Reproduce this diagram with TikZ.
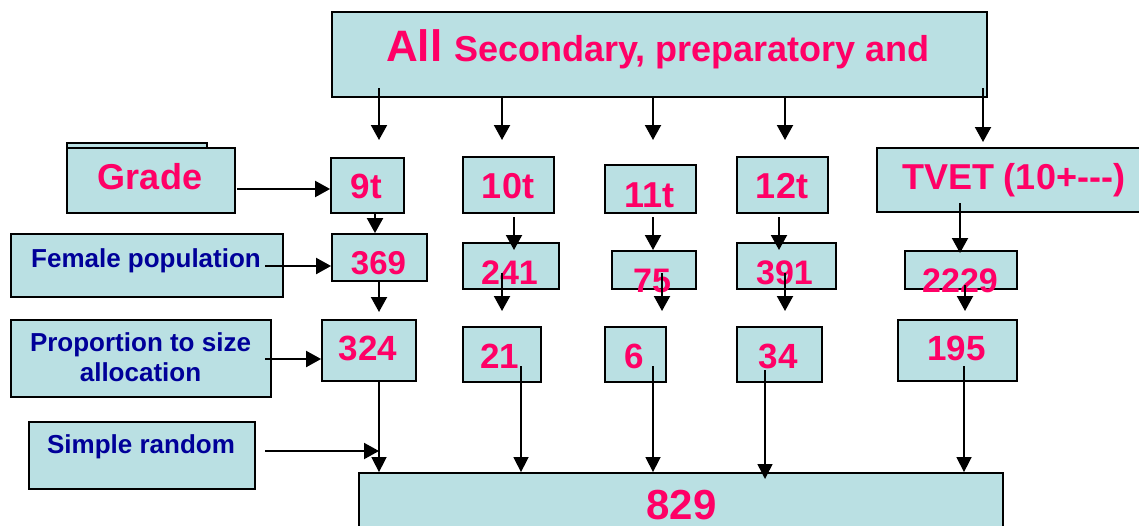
\documentclass[tikz,border=0pt]{standalone}
\usepackage{fontspec}
\setmainfont{Liberation Sans}
\usetikzlibrary{arrows.meta,fit}
\definecolor{boxfill}{RGB}{186,224,227}
\definecolor{pinkt}{RGB}{255,0,102}
\definecolor{bluet}{RGB}{0,0,153}
\tikzset{
 box/.style={draw=black, line width=1.8pt, fill=boxfill, inner sep=0pt},
 pk/.style={text=pinkt, anchor=base, inner sep=0pt},
 bl/.style={text=bluet, anchor=base, inner sep=0pt},
 arr/.style={line width=2pt, -{Triangle[length=15pt,width=16pt]}},
 longarr/.style={line width=1.5pt, -{Triangle[length=15pt,width=15pt]}},
}
\newcommand{\fs}[1]{\fontsize{#1}{#1}\selectfont\bfseries}
\begin{document}
\begin{tikzpicture}[x=1pt,y=-1pt]
\clip (0,0) rectangle (1139,525);
\fill[white] (0,0) rectangle (1139,525);
% boxes
\node[box, fit={(332,12) (987,97)}] (top) {};
\node[box, fit={(67,143) (207,200)}] (gradeback) {};
\node[box, fit={(67,148) (235,213)}] (grade) {};
\node[box, fit={(331,158) (404,213)}] (b9) {};
\node[box, fit={(463,157) (554,213)}] (b10) {};
\node[box, fit={(605,165) (696,213)}] (b11) {};
\node[box, fit={(737,157) (828,213)}] (b12) {};
\node[box, fit={(877,148) (1150,212)}] (tvet) {};
\node[box, fit={(11,234) (283,297)}] (female) {};
\node[box, fit={(332,234) (427,281)}] (n369) {};
\node[box, fit={(463,243) (559,289)}] (n241) {};
\node[box, fit={(612,251) (696,289)}] (n75) {};
\node[box, fit={(737,243) (836,289)}] (n391) {};
\node[box, fit={(905,251) (1017,289)}] (n2229) {};
\node[box, fit={(11,320) (271,397)}] (prop) {};
\node[box, fit={(322,320) (416,381)}] (n324) {};
\node[box, fit={(463,327) (541,382)}] (n21) {};
\node[box, fit={(605,327) (666,382)}] (n6) {};
\node[box, fit={(737,327) (822,382)}] (n34) {};
\node[box, fit={(898,320) (1017,381)}] (n195) {};
\node[box, fit={(29,422) (255,489)}] (simple) {};
\node[box, fit={(359,473) (1003,560)}] (total) {};
% texts
\node[pk] (ttop) at (658,61) {\fs{44}All \fs{36}Secondary, preparatory and};
\node[pk] (tgrade) at (150,189) {\fs{36}Grade};
\node[pk] (t9) at (366.5,198) {\fs{35}9t};
\node[pk] (t10) at (508,198) {\fs{36}10t};
\node[pk] (t11) at (649.5,207) {\fs{36}11t};
\node[pk] (t12) at (782,198) {\fs{36}12t};
\node[pk] (ttvet) at (1013.5,189) {\fs{36}TVET (10+{-}{-}{-})};
\node[bl] (tfemale) at (146,267) {\fs{26}Female population};
\node[pk] (t369) at (378.5,274) {\fs{33}369};
\node[pk] (t241) at (509.5,284) {\fs{34}241};
\node[pk] (t75) at (652,292) {\fs{34}75};
\node[pk] (t391) at (784.5,284) {\fs{34}391};
\node[pk] (t2229) at (960,292) {\fs{34}2229};
\node[bl] (tprop1) at (140.5,351) {\fs{26}Proportion to size};
\node[bl] (tprop2) at (140.5,381) {\fs{26}allocation};
\node[pk] (t324) at (368,360) {\fs{35}324};
\node[pk] (t21) at (499.5,368) {\fs{35}21};
\node[pk] (t6) at (634,368) {\fs{35}6};
\node[pk] (t34) at (778,368) {\fs{35}34};
\node[pk] (t195) at (956.5,360) {\fs{35}195};
\node[bl] (tsimple) at (141,453) {\fs{26}Simple random};
\node[pk] (t829) at (681.5,519) {\fs{42}829};
% arrow end points
\coordinate (a9) at (379,140);
\coordinate (a10) at (502,140);
\coordinate (a11) at (653,140);
\coordinate (a12) at (785,140);
\coordinate (atv) at (983,142);
% top arrows
\draw[arr] (379,88) -- (a9);
\draw[arr] (top.south -| a10) -- (a10);
\draw[arr] (top.south -| a11) -- (a11);
\draw[arr] (top.south -| a12) -- (a12);
\draw[arr] (983,88) -- (atv);
% side arrows
\draw[arr] (237,189) -- (b9.west |- 0,189);
\draw[arr] (265,266) -- (n369.west |- 0,266);
\draw[arr] (265,359) -- (n324.west |- 0,359);
\draw[arr] (265,451) -- (379,451);
% column arrows
\draw[arr] (b9.south -| 375,0) -- (n369.north -| 375,0);
\draw[arr] (n369.south -| 379,0) -- (379,312);
\draw[arr] (514,217) -- (514,250);
\draw[arr] (653,217) -- (653,250);
\draw[arr] (779,217) -- (779,250);
\draw[arr] (960,203) -- (960,253);
\draw[arr] (502,273) -- (502,311);
\draw[arr] (662,273) -- (662,311);
\draw[arr] (785,273) -- (785,311);
\draw[arr] (965,285) -- (965,311);
% long arrows to total
\draw[longarr] (n324.south -| 379,0) -- (total.north -| 379,0);
\draw[longarr] (521,366) -- (total.north -| 521,0);
\draw[longarr] (653,366) -- (total.north -| 653,0);
\draw[longarr] (765,370) -- (765,479);
\draw[longarr] (964,366) -- (total.north -| 964,0);
\end{tikzpicture}
\end{document}
